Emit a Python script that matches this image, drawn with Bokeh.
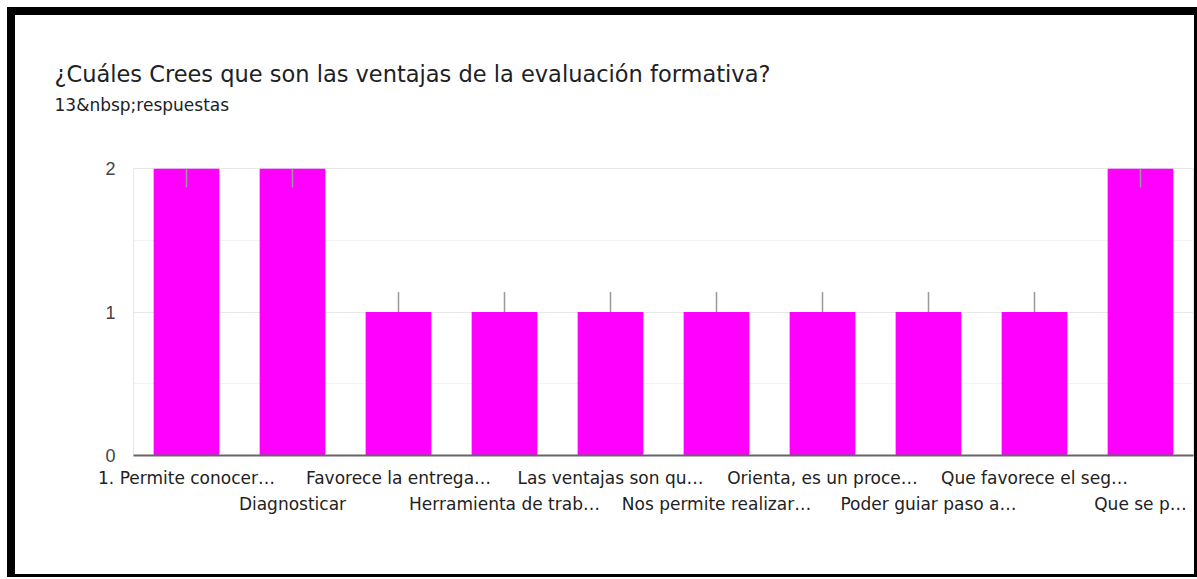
from bokeh.plotting import figure
from bokeh.models import ColumnDataSource, FixedTicker, Range1d, Title, LinearAxis
from bokeh.embed import file_html
from bokeh.resources import INLINE

title_text = "¿Cuáles Crees que son las ventajas de la evaluación formativa?"
subtitle_text = "13&nbsp;respuestas"

categories = [
    "1. Permite conocer…",
    "Diagnosticar",
    "Favorece la entrega…",
    "Herramienta de trab…",
    "Las ventajas son qu…",
    "Nos permite realizar…",
    "Orienta, es un proce…",
    "Poder guiar paso a…",
    "Que favorece el seg…",
    "Que se p…",
]
counts = [2, 2, 1, 1, 1, 1, 1, 1, 1, 2]
y_ticks = [0, 1, 2]
y_minor_ticks = [0.5, 1.5]

n = len(categories)
vmax = max(counts)
pos = [i + 0.5 for i in range(n)]  # centre of each category band
whisker_top = [v - 0.13 if v == vmax else v + 0.14 for v in counts]

# staggered label rows
even_pos = pos[0::2]
odd_pos = pos[1::2]
even_labels = {pos[i]: categories[i] for i in range(0, n, 2)}
odd_labels = {pos[i]: categories[i] for i in range(1, n, 2)}

src = ColumnDataSource(dict(x=pos, cat=categories, cnt=counts, wt=whisker_top))

p = figure(
    x_range=Range1d(0, n),
    y_range=Range1d(0, vmax),
    x_axis_location=None,
    width=1179,
    height=559,
    output_backend="svg",
    toolbar_location=None,
    min_border_left=118,
    min_border_right=12,
    min_border_top=153,
    min_border_bottom=130,
)
p.styles = {
    "box-sizing": "content-box",
    "margin-left": "7px",
    "margin-top": "7px",
    "border-left": "8px solid black",
    "border-top": "8px solid black",
    "border-right": "3px solid black",
    "border-bottom": "3px solid black",
}

p.vbar(x="x", top="cnt", width=0.62, source=src, color="#ff00ff", line_color=None)
p.segment(x0="x", y0="cnt", x1="x", y1="wt", source=src, line_color="#999999", line_width=1.5)

p.outline_line_color = "#e6e6e6"
for g in p.grid:
    if g.dimension == 0:
        g.grid_line_color = None
        g.minor_grid_line_color = None
p.ygrid.grid_line_color = "#e8e8e8"
p.ygrid.minor_grid_line_color = "#f3f3f3"

p.yaxis.ticker = FixedTicker(ticks=y_ticks, minor_ticks=y_minor_ticks)
p.yaxis.axis_line_color = None
p.yaxis.major_tick_line_color = None
p.yaxis.minor_tick_line_color = None
p.yaxis.major_tick_out = 0
p.yaxis.minor_tick_out = 0
p.yaxis.major_label_text_font = "Liberation Sans"
p.yaxis.major_label_text_font_size = "18px"
p.yaxis.major_label_text_color = "#444444"
p.yaxis.major_label_standoff = 18


def label_axis(ticks, labels, standoff, line_color):
    return LinearAxis(
        ticker=FixedTicker(ticks=ticks),
        major_label_overrides=labels,
        axis_line_color=line_color,
        axis_line_width=2,
        major_tick_line_color=None,
        minor_tick_line_color=None,
        major_tick_out=0,
        major_tick_in=0,
        minor_tick_out=0,
        minor_tick_in=0,
        major_label_standoff=standoff,
        major_label_text_font="DejaVu Sans",
        major_label_text_font_size="17px",
        major_label_text_color="#222222",
    )


p.add_layout(label_axis(even_pos, even_labels, 12, "#666666"), "below")
p.add_layout(label_axis(odd_pos, odd_labels, 3, None), "below")

p.title.visible = False
p.add_layout(Title(text=" ", text_font_size="30px", standoff=19), "above")
p.add_layout(Title(text=subtitle_text, text_font="DejaVu Sans", text_font_size="17px",
                   text_font_style="normal", text_color="#202124", align="left",
                   offset=-79, standoff=0), "above")
p.add_layout(Title(text=title_text, text_font="DejaVu Sans", text_font_size="22.5px",
                   text_font_style="normal", text_color="#202124", align="left",
                   offset=-79, standoff=12), "above")

open("out.html", "w").write(file_html(p, INLINE))
